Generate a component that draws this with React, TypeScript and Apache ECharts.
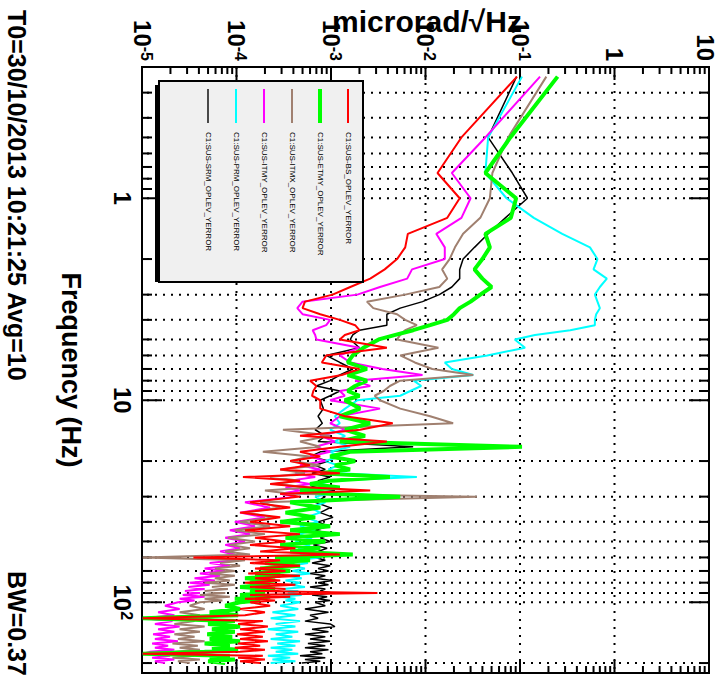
import React, { useEffect, useRef } from 'react';
import * as echarts from 'echarts';

// Frequency bins (Hz)
const FREQ = [
  0.25, 0.5, 0.75, 1, 1.25, 1.5, 1.75, 2, 2.25, 2.5, 2.75, 3, 3.25, 3.5, 3.75, 4, 4.25, 4.5, 4.75, 5,
  5.5, 6, 6.5, 7, 7.5, 8, 8.5, 9, 9.5, 10,
  11, 12, 13, 14, 15, 16, 17, 18, 19, 20, 21, 22, 23, 24, 25, 26, 27, 28, 29, 30,
  32, 34, 36, 38, 40, 42, 44, 46, 48, 50, 52, 54, 56, 58, 60, 62, 64, 66, 68, 70,
  72, 74, 76, 78, 80, 82, 84, 86, 88, 90, 92, 94, 96, 98, 100,
  104, 108, 112, 116, 120, 124, 128, 132, 136, 140, 144, 148, 152, 156, 160, 164, 168, 172, 176, 180,
  184, 188, 192, 196, 200,
];

// microrad/sqrt(Hz)
const BS = [
  0.093, 0.024, 0.0134, 0.023, 0.017, 0.0065, 0.0061, 0.005, 0.0037, 0.0026, 0.0016, 0.00104, 5.3e-4, 5.0e-4, 7.7e-4, 1.24e-3, 1.8e-3, 2.0e-3, 1.4e-3, 1.24e-3,
  3.9e-3, 8.9e-4, 8.0e-4, 2.0e-3, 1.3e-3, 6.0e-4, 7.0e-4, 6.5e-4, 6.3e-4, 7.7e-4,
  7.7e-4, 1.41e-3, 4.5e-3, 2.03e-3, 4.7e-4, 3.9e-3, 1.24e-3, 4.7e-4, 7.7e-4, 3.7e-4, 6.0e-4, 2.9e-4, 1.24e-3, 1.17e-4, 4.7e-4, 2.27e-4, 6.0e-4, 2.6e-3, 2.9e-4, 4.7e-4,
  1.39e-4, 3.7e-4, 1.09e-4, 2.9e-4, 1.39e-4, 3.7e-4, 1.23e-4, 4.7e-4, 1.57e-4, 3.3e-4, 1.39e-4, 4.2e-4, 1.78e-4, 1.24e-3, 3.5e-5, 2.9e-4, 1.39e-4, 4.7e-4, 1.57e-4, 3.3e-4,
  1.33e-4, 4.7e-4, 1.57e-4, 2.9e-4, 1.23e-4, 4.2e-4, 1.39e-4, 3.3e-4, 1.57e-4, 3.1e-3, 1.39e-4, 3.7e-4, 1.23e-4, 2.56e-4, 1.39e-4,
  2.27e-4, 1.09e-4, 2.0e-4, 1.23e-4, 1.02e-5, 1.9e-4, 1.04e-4, 2.15e-4, 1.09e-4, 2.0e-4, 1.01e-4, 1.9e-4, 1.09e-4, 2.15e-4, 1.04e-4, 1.78e-4, 9.6e-5, 2.0e-4, 1.09e-4, 1.02e-5,
  1.9e-4, 1.04e-4, 2.0e-4, 1.09e-4, 1.78e-4,
];

const ETMY = [
  0.25, 0.079, 0.043, 0.091, 0.08, 0.043, 0.048, 0.04, 0.033, 0.04, 0.05, 0.038, 0.03, 0.023, 0.02, 0.017, 0.0112, 0.0074, 0.0048, 0.0032,
  0.0022, 0.0017, 0.0015, 0.0024, 0.0015, 0.0024, 0.0018, 0.0015, 0.002, 0.0014,
  2.03e-3, 1.24e-3, 2.59e-3, 1.41e-3, 2.29e-3, 1.24e-3, 0.105, 1.59e-3, 9.8e-4, 1.8e-3, 1.1e-3, 1.59e-3, 7.7e-4, 4.2e-3, 9.8e-4, 6.0e-4, 1.24e-3, 4.7e-4, 9.8e-4, 5.4e-3,
  3.7e-4, 7.7e-4, 3.3e-4, 6.8e-4, 2.9e-4, 9.8e-4, 3.7e-4, 1.24e-3, 3.3e-4, 8.7e-4, 2.9e-4, 7.7e-4, 3.7e-4, 1.7e-3, 2.56e-4, 6.0e-4, 2.0e-4, 4.7e-4, 1.78e-4, 3.7e-4,
  1.57e-4, 2.9e-4, 1.23e-4, 2.56e-4, 1.39e-4, 2.27e-4, 1.09e-4, 2.56e-4, 1.39e-4, 2.0e-4, 1.09e-4, 2.27e-4, 9.6e-5, 1.78e-4, 1.09e-4,
  7.6e-5, 1.09e-4, 5.2e-5, 1.04e-4, 1.02e-5, 9.6e-5, 5.0e-5, 1.09e-4, 5.5e-5, 9.6e-5, 4.9e-5, 9.0e-5, 5.2e-5, 1.09e-4, 4.6e-5, 8.5e-5, 5.5e-5, 1.04e-4, 4.6e-5, 1.02e-5,
  8.5e-5, 5.2e-5, 9.6e-5, 5.0e-5, 7.6e-5,
];

const ITMX = [
  0.19, 0.075, 0.051, 0.048, 0.038, 0.025, 0.0205, 0.018, 0.015, 0.017, 0.014, 0.0061, 0.0024, 0.0028, 0.005, 0.0061, 0.0081, 0.0061, 0.0054, 0.005,
  0.0137, 0.0054, 0.0077, 0.0118, 0.032, 0.0054, 0.0042, 0.0036, 0.0029, 0.0033,
  5.4e-3, 1.12e-2, 1.96e-2, 3.1e-4, 9.8e-4, 4.7e-4, 7.7e-4, 1.9e-4, 6.0e-4, 3.7e-4, 7.7e-4, 2.9e-4, 5.3e-4, 2.27e-4, 4.7e-4, 2.56e-4, 6.0e-4, 2.0e-4, 3.7e-4, 3.5e-2,
  1.78e-4, 2.9e-4, 1.23e-4, 2.56e-4, 1.09e-4, 2.27e-4, 9.6e-5, 2.0e-4, 8.1e-5, 1.57e-4, 8.5e-5, 1.39e-4, 7.6e-5, 1.39e-4, 1.02e-5, 1.23e-4, 6.7e-5, 1.09e-4, 5.9e-5, 9.6e-5,
  5.2e-5, 9.6e-5, 5.9e-5, 8.5e-5, 4.6e-5, 9.6e-5, 5.5e-5, 8.1e-5, 4.6e-5, 7.6e-5, 4.1e-5, 8.5e-5, 4.6e-5, 7.1e-5, 4.1e-5,
  3.2e-5, 4.6e-5, 2.5e-5, 4.1e-5, 1.21e-5, 3.6e-5, 2.2e-5, 4.6e-5, 2.5e-5, 4.1e-5, 2.2e-5, 3.6e-5, 2.4e-5, 4.6e-5, 2.1e-5, 3.9e-5, 2.5e-5, 4.1e-5, 2.2e-5, 1.08e-5,
  3.6e-5, 2.1e-5, 4.1e-5, 2.4e-5, 3.2e-5,
];

const ITMY = [
  0.163, 0.043, 0.019, 0.03, 0.024, 0.013, 0.016, 0.016, 0.0072, 0.0064, 0.0033, 0.0019, 5.0e-4, 4.4e-4, 5.0e-4, 9.8e-4, 8.9e-4, 6.4e-4, 6.8e-4, 7.0e-4,
  2.0e-3, 1.24e-3, 1.6e-3, 3.5e-3, 9.3e-3, 1.8e-3, 2.6e-3, 1.24e-3, 1.4e-3, 9.8e-4,
  3.3e-3, 1.24e-3, 9.8e-4, 1.41e-3, 7.7e-4, 1.1e-3, 6.8e-4, 9.8e-4, 6.0e-4, 8.7e-4, 4.7e-4, 7.7e-4, 4.2e-4, 6.8e-4, 3.7e-4, 6.0e-4, 3.3e-4, 4.7e-4, 2.9e-4, 4.2e-4,
  1.23e-4, 2.27e-4, 1.09e-4, 2.0e-4, 9.6e-5, 1.57e-4, 8.5e-5, 1.39e-4, 7.6e-5, 1.23e-4, 7.6e-5, 1.09e-4, 6.7e-5, 9.6e-5, 5.9e-5, 9.6e-5, 5.2e-5, 8.5e-5, 4.6e-5, 7.6e-5,
  4.1e-5, 6.7e-5, 3.6e-5, 5.9e-5, 3.2e-5, 5.2e-5, 3.1e-5, 4.6e-5, 2.85e-5, 4.1e-5, 2.7e-5, 4.6e-5, 2.5e-5, 3.6e-5, 2.4e-5,
  1.75e-5, 2.5e-5, 1.48e-5, 2.2e-5, 1.02e-5, 2.1e-5, 1.37e-5, 2.5e-5, 1.48e-5, 2.2e-5, 1.31e-5, 1.98e-5, 1.37e-5, 2.4e-5, 1.28e-5, 1.89e-5, 1.37e-5, 2.2e-5, 1.21e-5, 1.02e-5,
  1.98e-5, 1.28e-5, 2.2e-5, 1.37e-5, 1.75e-5,
];

const PRM = [
  0.105, 0.046, 0.043, 0.072, 0.14, 0.28, 0.55, 0.66, 0.6, 0.83, 0.7, 0.62, 0.66, 0.7, 0.64, 0.62, 0.62, 0.34, 0.144, 0.088,
  0.113, 0.045, 0.016, 0.019, 0.032, 0.0075, 0.009, 0.0069, 0.0054, 0.0019,
  1.41e-3, 1.1e-3, 1.24e-3, 9.8e-4, 1.41e-3, 1.1e-3, 1.59e-3, 9.8e-4, 1.24e-3, 8.7e-4, 1.18e-3, 9.4e-4, 1.24e-3, 8.1e-3, 9.8e-4, 7.7e-4, 1.1e-3, 7.3e-4, 9.8e-4, 6.8e-4,
  8.7e-4, 6.0e-4, 7.7e-4, 5.3e-4, 7.3e-4, 4.7e-4, 6.8e-4, 4.5e-4, 6.3e-4, 4.2e-4, 6.0e-4, 4.5e-4, 6.8e-4, 4.7e-4, 7.7e-4, 4.2e-4, 5.7e-4, 3.7e-4, 5.3e-4, 3.9e-4,
  6.0e-4, 3.5e-4, 4.9e-4, 3.3e-4, 4.7e-4, 3.7e-4, 5.3e-4, 3.1e-4, 4.5e-4, 3.5e-4, 4.9e-4, 2.9e-4, 4.2e-4, 3.3e-4, 4.7e-4,
  2.9e-4, 4.5e-4, 2.4e-4, 4.2e-4, 2.3e-4, 4.7e-4, 2.6e-4, 4.2e-4, 2.15e-4, 4.5e-4, 2.6e-4, 3.9e-4, 2.3e-4, 4.7e-4, 2.7e-4, 4.2e-4, 2.3e-4, 3.9e-4, 2.6e-4, 4.5e-4,
  2.15e-4, 3.7e-4, 2.4e-4, 4.2e-4, 2.3e-4,
];

const SRM = [
  0.092, 0.046, 0.083, 0.12, 0.07, 0.046, 0.033, 0.025, 0.023, 0.023, 0.019, 0.014, 0.0093, 0.0054, 0.0039, 0.0039, 0.0039, 0.002, 0.0017, 0.0016,
  0.002, 8.9e-4, 1.24e-3, 1.7e-3, 1.24e-3, 9.8e-4, 7e-4, 1.24e-3, 9.8e-4, 7.7e-4,
  8.3e-4, 7.3e-4, 8.1e-4, 6.8e-4, 8.7e-4, 7.3e-4, 7.4e-3, 7.7e-4, 6.0e-4, 9.4e-4, 6.8e-4, 8.7e-4, 6.3e-4, 9.8e-4, 7.3e-4, 8.1e-4, 6.0e-4, 1.1e-3, 7.3e-4, 8.7e-4,
  6.8e-4, 9.8e-4, 7.7e-4, 1.05e-3, 7.3e-4, 9.4e-4, 6.8e-4, 1.03e-3, 7.7e-4, 9.8e-4, 6.5e-4, 9.1e-4, 7.3e-4, 1.05e-3, 6.8e-4, 8.7e-4, 6.3e-4, 9.8e-4, 7.3e-4, 9.4e-4,
  6.0e-4, 8.7e-4, 6.8e-4, 1.03e-3, 7.3e-4, 9.4e-4, 6.0e-4, 8.7e-4, 7.7e-4, 1.05e-3, 6.3e-4, 9.1e-4, 7.3e-4, 9.8e-4, 6.8e-4,
  8.7e-4, 5.3e-4, 9.4e-4, 6.0e-4, 7.3e-4, 5.3e-4, 9.8e-4, 1.1e-3, 6.3e-4, 9.4e-4, 5.3e-4, 8.7e-4, 6.0e-4, 9.8e-4, 5.7e-4, 8.7e-4, 5.3e-4, 9.4e-4, 6.0e-4, 8.1e-4,
  4.7e-4, 8.7e-4, 5.3e-4, 7.7e-4, 4.9e-4,
];

const FREQ_GRID = [0.3, 0.4, 0.5, 0.6, 0.7, 0.8, 0.9, 1, 2, 3, 4, 5, 6, 7, 8, 9, 10, 20, 30, 40, 50, 60, 70, 80, 90, 100, 200];
const AMP_DECADES = [1e-5, 1e-4, 1e-3, 1e-2, 1e-1, 1, 10];
const AMP_MANTISSAS = [1, 2, 3, 4, 5, 6, 7, 8, 9];

const FONT = 'Liberation Sans, Arial, Helvetica, sans-serif';

const isDecade = (v: number) => Math.abs(Math.log10(v) - Math.round(Math.log10(v))) < 1e-6;

const powLabel = (v: number) => {
  if (!isDecade(v)) return '';
  const e = Math.round(Math.log10(v));
  if (e === 0) return '{b|1}';
  if (e === 1) return '{b|10}';
  return '{b|10}{s|' + e + '}';
};

// y-axis: the top label ("10") is nudged inward so it stays inside the page
const ampLabel = (v: number) => {
  if (!isDecade(v)) return '';
  const e = Math.round(Math.log10(v));
  if (e === 1) return '{t|10}';
  return powLabel(v);
};

const labelRich = {
  b: { fontSize: 24, fontWeight: 'bold', fontFamily: FONT, color: '#000' },
  t: { fontSize: 24, fontWeight: 'bold', fontFamily: FONT, color: '#000', padding: [7, 0, 0, 0] },
  s: { fontSize: 16, fontWeight: 'bold', fontFamily: FONT, color: '#000', verticalAlign: 'top', padding: [0, 0, 8, 0] },
};

const SERIES = [
  { name: 'C1:SUS-SRM_OPLEV_YERROR', values: SRM, color: '#000000', width: 1.5 },
  { name: 'C1:SUS-PRM_OPLEV_YERROR', values: PRM, color: '#00ffff', width: 2 },
  { name: 'C1:SUS-ITMY_OPLEV_YERROR', values: ITMY, color: '#ff00ff', width: 2 },
  { name: 'C1:SUS-ITMX_OPLEV_YERROR', values: ITMX, color: '#a08070', width: 2 },
  { name: 'C1:SUS-ETMY_OPLEV_YERROR', values: ETMY, color: '#00ff00', width: 4 },
  { name: 'C1:SUS-BS_OPLEV_YERROR', values: BS, color: '#ff0000', width: 2 },
];

const LEGEND_ORDER = [
  'C1:SUS-BS_OPLEV_YERROR',
  'C1:SUS-ETMY_OPLEV_YERROR',
  'C1:SUS-ITMX_OPLEV_YERROR',
  'C1:SUS-ITMY_OPLEV_YERROR',
  'C1:SUS-PRM_OPLEV_YERROR',
  'C1:SUS-SRM_OPLEV_YERROR',
];

function buildOption() {
  const ampTicks: number[][] = [];
  AMP_DECADES.forEach((d, i) => {
    AMP_MANTISSAS.forEach((m) => {
      if (i === AMP_DECADES.length - 1 && m > 1) return;
      ampTicks.push([1, d * m]);
    });
  });

  const dataSeries = SERIES.map((s, i) => ({
    name: s.name,
    type: 'line',
    data: FREQ.map((f, k) => [f, s.values[k]]),
    showSymbol: false,
    symbol: 'none',
    lineStyle: { color: s.color, width: s.width },
    itemStyle: { color: s.color },
    z: 3 + i,
    silent: true,
  }));

  const black = { stroke: '#000', lineWidth: 2 };
  const dotted = { stroke: '#000', lineWidth: 2, lineDash: [2, 6] };

  return {
    animation: false,
    backgroundColor: '#ffffff',
    grid: {
      left: 67, right: 4, top: 10, bottom: 142,
      show: true, borderColor: '#000', borderWidth: 2, backgroundColor: 'transparent',
      containLabel: false, outerBoundsMode: 'none',
    },
    xAxis: {
      type: 'log',
      logBase: 10,
      min: 0.224,
      max: 224,
      axisLine: { show: false },
      axisTick: { show: false },
      splitLine: { show: false },
      axisLabel: { margin: 8, formatter: powLabel, rich: labelRich },
      name: 'Frequency (Hz)',
      nameLocation: 'middle',
      nameGap: 58,
      nameTextStyle: { fontSize: 27, fontWeight: 'bold', fontFamily: FONT, color: '#000' },
    },
    yAxis: {
      type: 'log',
      logBase: 10,
      min: 1e-5,
      max: 10,
      axisLine: { show: false },
      axisTick: { show: false },
      splitLine: { show: false },
      axisLabel: { margin: 6, formatter: ampLabel, rich: labelRich },
    },
    legend: {
      data: LEGEND_ORDER.map((n) => ({
        name: n,
        icon: n.indexOf('ETMY') >= 0 ? 'path://M0,0H34V4H0Z' : n.indexOf('SRM') >= 0 ? 'path://M0,0H34V1.4H0Z' : 'path://M0,0H34V2H0Z',
      })),
      orient: 'vertical',
      left: 89,
      top: 367,
      padding: 0,
      itemWidth: 34,
      itemHeight: 14,
      itemGap: 20,
      selectedMode: false,
      z: 150,
      textStyle: { fontSize: 8, fontFamily: FONT, color: '#000', padding: [0, 0, 0, 4] },
    },
    graphic: [
      { type: 'rect', z: 100, shape: { x: 85, y: 360, width: 197, height: 204 }, style: { fill: '#000' } },
      { type: 'rect', z: 101, shape: { x: 81, y: 356, width: 201, height: 204 }, style: { fill: '#f0f0f0', stroke: '#000', lineWidth: 2 } },
      {
        type: 'text', z: 101, x: 21, y: 292, rotation: Math.PI / 2,
        style: { text: 'microrad/√Hz', font: 'bold 30px ' + FONT, fill: '#000', textAlign: 'center', textVerticalAlign: 'middle' },
      },
      { type: 'text', z: 101, x: 10, y: 690, style: { text: 'T0=30/10/2013 10:21:25 Avg=10', font: 'bold 25px ' + FONT, fill: '#000', textVerticalAlign: 'top' } },
      { type: 'text', z: 101, x: 571, y: 690, style: { text: 'BW=0.37', font: 'bold 25px ' + FONT, fill: '#000', textVerticalAlign: 'top' } },
    ],
    series: [
      {
        type: 'custom',
        name: 'freqGrid',
        silent: true,
        z: 1,
        data: FREQ_GRID.map((f) => [f, 1]),
        renderItem: (params: any, api: any) => {
          const cs = params.coordSys;
          const x = api.coord([api.value(0), 1])[0];
          const top = cs.y;
          const bot = cs.y + cs.height;
          const len = isDecade(api.value(0)) ? 20 : 10;
          return {
            type: 'group',
            children: [
              { type: 'line', shape: { x1: x, y1: top, x2: x, y2: bot }, style: dotted },
              { type: 'line', shape: { x1: x, y1: bot, x2: x, y2: bot - len }, style: black },
              { type: 'line', shape: { x1: x, y1: top, x2: x, y2: top + len }, style: black },
            ],
          };
        },
      },
      {
        type: 'custom',
        name: 'ampGrid',
        silent: true,
        z: 1,
        data: ampTicks,
        renderItem: (params: any, api: any) => {
          const cs = params.coordSys;
          const a = api.value(1);
          const y = api.coord([1, a])[1];
          const left = cs.x;
          const right = cs.x + cs.width;
          const dec = isDecade(a);
          const len = dec ? 13 : 7;
          const children: any[] = [
            { type: 'line', shape: { x1: left, y1: y, x2: left + len, y2: y }, style: black },
            { type: 'line', shape: { x1: right, y1: y, x2: right - len, y2: y }, style: black },
          ];
          if (dec && a > 2e-5 && a < 5) {
            children.push({ type: 'line', shape: { x1: left, y1: y, x2: right, y2: y }, style: dotted });
          }
          return { type: 'group', children };
        },
      },
      ...dataSeries,
    ],
  };
}

export default function App() {
  const ref = useRef<HTMLDivElement>(null);
  useEffect(() => {
    if (!ref.current) return;
    const chart = echarts.init(ref.current, null, { renderer: 'svg' });
    chart.setOption(buildOption() as any);
    return () => chart.dispose();
  }, []);
  return (
    <div style={{ position: 'fixed', left: 0, top: 0, width: 719, height: 677, overflow: 'hidden', background: '#fff' }}>
      <div
        ref={ref}
        style={{
          position: 'absolute',
          left: 0,
          top: 0,
          width: 677,
          height: 719,
          transform: 'translate(719px, 0px) rotate(90deg)',
          transformOrigin: '0 0',
        }}
      />
    </div>
  );
}
